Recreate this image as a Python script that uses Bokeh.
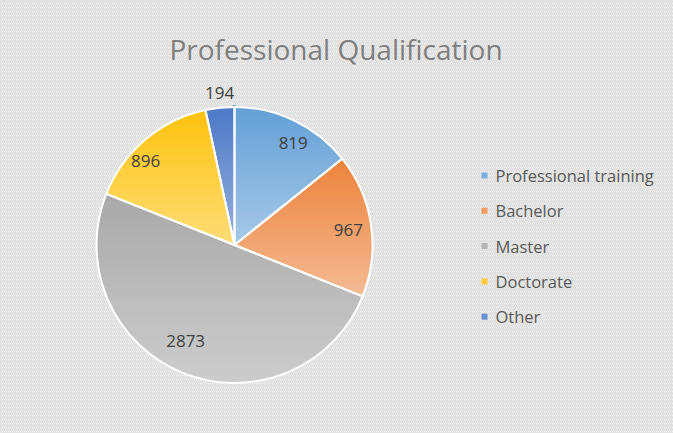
import numpy as np
from bokeh.plotting import figure
from bokeh.models import Range1d
from bokeh.core.properties import value
from bokeh.embed import file_html
from bokeh.resources import INLINE

# ---- data ----
categories = ["Professional training", "Bachelor", "Master", "Doctorate", "Other"]
counts = [819, 967, 2873, 896, 194]
title_text = "Professional Qualification"

# ---- style ----
top_colors = ["#5b9bd5", "#ed7d31", "#a5a5a5", "#ffc000", "#4472c4"]
bottom_colors = ["#a4c8e8", "#f5b88f", "#cbcbcb", "#ffdc70", "#93aee0"]
legend_colors = ["#7aafe0", "#f29a62", "#b5b5b5", "#ffcc3a", "#6a8ed2"]
FONT = "Open Sans"

W, H = 673, 433
cx, cy, R = 234.0, 188.5, 138.0

p = figure(width=W, height=H, output_backend="svg", toolbar_location=None,
           x_range=Range1d(0, W), y_range=Range1d(0, H), min_border=0)
p.axis.visible = False
p.grid.visible = False
p.outline_line_color = "#d9d9d9"
p.outline_line_width = 1
p.background_fill_color = "white"
p.border_fill_color = "white"

# hatched chart background
p.quad(left=[0], right=[W], bottom=[0], top=[H], fill_color="white",
       line_color=None, hatch_pattern="\\", hatch_color="#dcdcdc",
       hatch_scale=4, hatch_weight=1.5)

def hex2rgb(h):
    h = h.lstrip("#")
    return np.array([int(h[i:i + 2], 16) for i in (0, 2, 4)], dtype=float)

def rgb2hex(c):
    return "#%02x%02x%02x" % tuple(int(round(v)) for v in c)

vals = np.array(counts, dtype=float)
frac = vals / vals.sum()
cum = np.cumsum(frac)
starts = np.pi / 2 - 2 * np.pi * (cum - frac)
ends = np.pi / 2 - 2 * np.pi * cum

# gradient-filled slices drawn as thin horizontal bands
band_y, band_l, band_r, band_c = [], [], [], []
for i in range(len(counts)):
    a = np.linspace(starts[i], ends[i], 400)
    px = np.concatenate([[cx], cx + R * np.cos(a), [cx]])
    py = np.concatenate([[cy], cy + R * np.sin(a), [cy]])
    ymin, ymax = py.min(), py.max()
    c0, c1 = hex2rgb(top_colors[i]), hex2rgb(bottom_colors[i])
    for y in np.arange(np.floor(ymin), np.ceil(ymax) + 1, 1.0):
        yc = min(max(y + 0.5, ymin + 0.01), ymax - 0.01)
        xs = []
        for k in range(len(px) - 1):
            y1, y2 = py[k], py[k + 1]
            if (y1 - yc) * (y2 - yc) <= 0 and y1 != y2:
                t = (yc - y1) / (y2 - y1)
                xs.append(px[k] + t * (px[k + 1] - px[k]))
        if len(xs) < 2:
            continue
        t = (ymax - yc) / (ymax - ymin)
        band_y.append(y + 0.5)
        band_l.append(min(xs))
        band_r.append(max(xs))
        band_c.append(rgb2hex(c0 + (c1 - c0) * t))

p.hbar(y=band_y, left=band_l, right=band_r, height=1.35, fill_color=band_c,
       line_color=None)

# white slice borders
p.wedge(x=[cx] * len(counts), y=[cy] * len(counts), radius=R,
        start_angle=list(starts), end_angle=list(ends), direction="clock",
        fill_color=None, line_color="white", line_width=2)

# data labels
label_r = [118, 115, 108, 122, 153]
label_nudge = np.radians([-4.2, -0.7, -5.1, 6.6, -0.5])
mids = (starts + ends) / 2 + label_nudge
lx = cx + np.array(label_r) * np.cos(mids)
ly = cy + np.array(label_r) * np.sin(mids)
p.text(x=list(lx), y=list(ly), text=[str(v) for v in counts],
       text_font=value(FONT), text_font_size="17px", text_color="#404040",
       text_align="center", text_baseline="middle")

# title
p.text(x=[335.5], y=[H - 48], text=[title_text], text_font=value(FONT),
       text_font_size="28px", text_color="#7f7f7f", text_align="center",
       text_baseline="alphabetic")

# legend
leg_y = (H - 175) - 35.3 * np.arange(len(categories))
p.rect(x=[484] * len(categories), y=list(leg_y), width=6, height=6,
       fill_color=legend_colors, line_color=None)
p.text(x=[495] * len(categories), y=list(leg_y), text=categories,
       text_font=value(FONT), text_font_size="16.5px", text_color="#595959",
       text_align="left", text_baseline="middle")

open("out.html", "w").write(file_html(p, INLINE))
